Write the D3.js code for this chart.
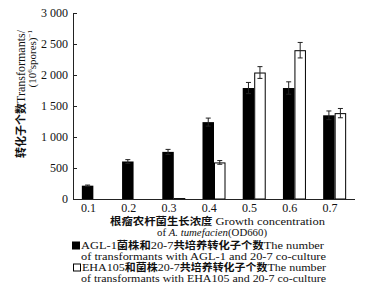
<!DOCTYPE html>
<html>
<head>
<meta charset="utf-8">
<script src="https://cdn.jsdelivr.net/npm/d3@7"></script>
<style>
  body { margin: 0; background: #fff; }
  text { font-family: "Liberation Serif", "Times New Roman", serif; fill: #111; }
  .zh { font-family: "Noto Sans CJK SC", sans-serif; font-weight: bold; }
</style>
</head>
<body>
<div id="chart"></div>
<script>
// data
const concentrations = ["0.1", "0.2", "0.3", "0.4", "0.5", "0.6", "0.7"];
const aglValues = [215, 605, 760, 1240, 1790, 1790, 1350];
const aglErrors = [10, 30, 40, 65, 90, 100, 70];
const ehaValues = [0, 0, 15, 590, 2040, 2400, 1385];
const ehaErrors = [0, 0, 0, 30, 95, 125, 75];
const yTicks = [0, 500, 1000, 1500, 2000, 2500, 3000];

let config = {
  width: 367,
  height: 297,
  margin: { top: 13, bottom: 98, left: 73, right: 12 }
};
config.container = d3.select("#chart").append("svg")
  .attr("width", config.width)
  .attr("height", config.height);

const svg = config.container;
const x0 = config.margin.left;
const x1 = config.width - config.margin.right;
const yBase = config.height - config.margin.bottom; // 199

let x = d3.scaleBand()
  .domain(concentrations)
  .range([x0, x1])
  .paddingInner(0.428)
  .paddingOuter(0.22);

let xs = d3.scaleBand()
  .domain(["agl", "eha"])
  .range([0, x.bandwidth()]);

let y = d3.scaleLinear()
  .domain([0, 3000])
  .range([yBase, config.margin.top]);

let rows = concentrations.map((c, i) => ({
  c: c,
  agl: aglValues[i], aglErr: aglErrors[i],
  eha: ehaValues[i], ehaErr: ehaErrors[i]
}));

// bars
svg.selectAll(".agl")
  .data(rows)
  .enter()
  .append("rect")
  .attr("x", d => x(d.c) + xs("agl"))
  .attr("y", d => y(d.agl))
  .attr("width", xs.bandwidth())
  .attr("height", d => yBase - y(d.agl))
  .attr("fill", "#000");

svg.selectAll(".eha")
  .data(rows.filter(d => d.eha > 0))
  .enter()
  .append("rect")
  .attr("x", d => x(d.c) + xs("eha") + 0.5)
  .attr("y", d => y(d.eha) + 0.5)
  .attr("width", xs.bandwidth() - 1)
  .attr("height", d => Math.max(0, yBase - y(d.eha) - 0.5))
  .attr("fill", "#fff")
  .attr("stroke", "#000")
  .attr("stroke-width", 1);

// error bars
let errs = [];
rows.forEach(d => {
  if (d.aglErr > 0) errs.push({ cx: x(d.c) + xs("agl") + xs.bandwidth() / 2, v: d.agl, e: d.aglErr });
  if (d.ehaErr > 0) errs.push({ cx: x(d.c) + xs("eha") + xs.bandwidth() / 2, v: d.eha, e: d.ehaErr });
});
let eb = svg.selectAll(".err").data(errs).enter().append("g")
  .attr("stroke", "#222").attr("stroke-width", 1);
eb.append("line")
  .attr("x1", d => d.cx).attr("x2", d => d.cx)
  .attr("y1", d => y(d.v + d.e)).attr("y2", d => y(d.v - d.e));
eb.append("line")
  .attr("x1", d => d.cx - 2.5).attr("x2", d => d.cx + 2.5)
  .attr("y1", d => y(d.v + d.e)).attr("y2", d => y(d.v + d.e));
eb.append("line")
  .attr("x1", d => d.cx - 2.5).attr("x2", d => d.cx + 2.5)
  .attr("y1", d => y(d.v - d.e)).attr("y2", d => y(d.v - d.e));

// y axis, ticks pointing inward
let yAxis = d3.axisLeft(y)
  .tickValues(yTicks)
  .tickSizeInner(-4)
  .tickSizeOuter(0)
  .tickPadding(5)
  .tickFormat(d => d3.format(",")(d).replace(",", " "));
let gy = svg.append("g")
  .attr("transform", `translate(${x0},0)`)
  .call(yAxis);
gy.selectAll("text").attr("font-size", 12).attr("font-family", "Liberation Serif").attr("fill", "#222");
gy.selectAll("line, path").attr("stroke", "#222");

// x axis line and labels
let xAxis = d3.axisBottom(x).tickSize(0).tickPadding(4);
let gx = svg.append("g")
  .attr("transform", `translate(0,${yBase})`)
  .call(xAxis);
gx.select(".domain").attr("d", `M${x0},0.5H${x1}`).attr("stroke", "#222");
gx.selectAll(".tick")
  .attr("transform", d => `translate(${x(d) + xs.bandwidth() / 2 + 1},0)`);
gx.selectAll("text").attr("font-size", 12).attr("font-family", "Liberation Serif").attr("fill", "#222");

// y title
let yt = svg.append("text")
  .attr("transform", "translate(25,30) rotate(-90)")
  .attr("text-anchor", "end")
  .attr("font-size", 12);
yt.append("tspan").attr("class", "zh").attr("font-size", 11).text("转化子个数");
yt.append("tspan").text("Transformants/");

let yt2 = svg.append("text")
  .attr("transform", "translate(36,30) rotate(-90)")
  .attr("text-anchor", "end")
  .attr("font-size", 11);
yt2.append("tspan").text("(10");
yt2.append("tspan").attr("font-size", 7).attr("dy", -4).text("6");
yt2.append("tspan").attr("dy", 4).text("spores)");
yt2.append("tspan").attr("font-size", 7).attr("dy", -4).text("−1");

// x title and legend
function mixedLine(xp, yp, parts, len) {
  let t = svg.append("text")
    .attr("x", xp).attr("y", yp)
    .attr("font-size", 11)
    .attr("textLength", len)
    .attr("lengthAdjust", "spacingAndGlyphs");
  parts.forEach(p => {
    let s = t.append("tspan").text(p[0]);
    if (p[1]) s.attr("class", "zh").attr("font-size", 10);
    if (p[2]) s.attr("font-style", "italic");
  });
  return t;
}

mixedLine(110, 225, [["根瘤农杆菌生长浓度", true], [" Growth concentration"]], 215);
mixedLine(157, 236, [["of "], ["A. tumefacien", false, true], ["(OD660)"]], 110);

svg.append("rect").attr("x", 72).attr("y", 241.5).attr("width", 8).attr("height", 8).attr("fill", "#000");
mixedLine(81, 249, [["AGL-1"], ["菌株和", true], ["20-7"], ["共培养转化子个数", true], ["The number"]], 243);
mixedLine(81, 260, [["of transformants with AGL-1 and 20-7 co-culture"]], 245);

svg.append("rect").attr("x", 73.5).attr("y", 264).attr("width", 7).attr("height", 7)
  .attr("fill", "#fff").attr("stroke", "#000");
mixedLine(82, 271, [["EHA105"], ["和菌株", true], ["20-7"], ["共培养转化子个数", true], ["The number"]], 244);
mixedLine(81, 282, [["of transformants with EHA105 and 20-7 co-culture"]], 245);
</script>
</body>
</html>
